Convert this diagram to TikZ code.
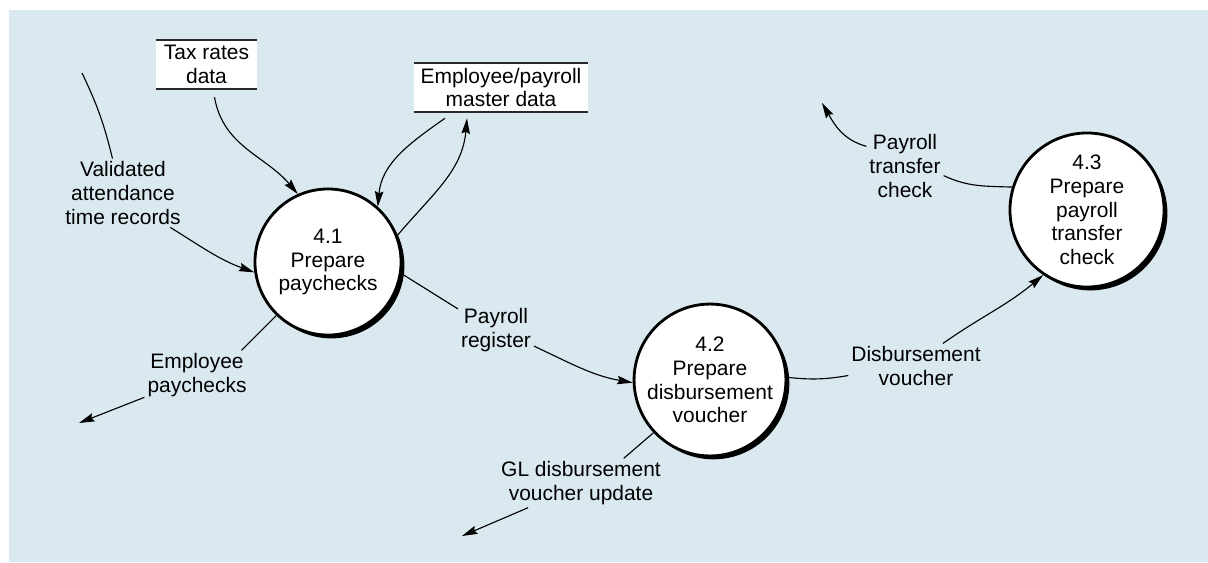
\documentclass[tikz,border=0pt]{standalone}
\usepackage{fontspec}
\setmainfont{Liberation Sans}
\usepackage{tikz}
\usetikzlibrary{calc,arrows.meta,shadows}
\definecolor{PanelBlue}{RGB}{218,232,240}
\definecolor{StoreLine}{RGB}{40,40,40}

\begin{document}
\begin{tikzpicture}[x=0.025cm, y=0.025cm,
  font=\fontsize{14.9}{16.8}\selectfont,
  process/.style={circle, draw=black, line width=2pt, fill=white, minimum size=3.65cm, inner sep=0pt, align=center, drop shadow={shadow xshift=2.4pt, shadow yshift=-2.4pt, opacity=1, fill=black}},
  storeline/.style={draw=StoreLine, line width=1.2pt},
  store/.style={fill=white, inner sep=0pt, align=center, minimum height=1.225cm, append after command={(\tikzlastnode.north west) edge[storeline] (\tikzlastnode.north east) (\tikzlastnode.south west) edge[storeline] (\tikzlastnode.south east)}},
  flowtext/.style={align=center, inner sep=2pt},
  flowline/.style={line width=0.8pt},
  flow/.style={flowline, -{Stealth[length=11pt,width=6pt,inset=1.5pt]}}
]
  \useasboundingbox (0,0) rectangle (1208,562);
  \fill[white] (0,0) rectangle (1208,562);
  \fill[PanelBlue] (9,0) rectangle (1208,552);

  % data stores
  \node[store, minimum width=2.525cm] (taxdata) at (206.5,497.5) {Tax rates\\data};
  \node[store, minimum width=4.35cm] (master) at (501,474.5) {Employee/payroll\\master data};

  % processes
  \node[process] (paychk) at (328,300) {4.1\\Prepare\\paychecks};
  \node[process] (voucher) at (710,182) {4.2\\Prepare\\disbursement\\voucher};
  \node[process, minimum size=3.85cm] (transfer) at (1087,352) {4.3\\Prepare\\payroll\\transfer\\check};

  % flow labels
  \node[flowtext] (attend) at (123,369) {Validated\\attendance\\time records};
  \node[flowtext] (emppay) at (197,187) {Employee\\paychecks};
  \node[flowtext] (register) at (496,232) {Payroll\\register};
  \node[flowtext] (glupd) at (581,79) {GL disbursement\\voucher update};
  \node[flowtext] (disb) at (916,196) {Disbursement\\voucher};
  \node[flowtext] (xfercheck) at (905,396) {Payroll\\transfer\\check};

  % free ends
  \coordinate (attendin) at (82,489);
  \coordinate (payout) at (79,139);
  \coordinate (glout) at (462,26);
  \coordinate (xferout) at (822,459);

  \draw[flowline] (attendin) to[bend left=6] (attend.107);
  \draw[flow] (attend.-36) to[out=-32, in=160] (paychk.188);
  \draw[flow] ($(taxdata.south)+(8,-8)$) to[out=-80, in=130] (paychk.114);
  \draw[flow] ($(master.south)+(-56,-6)$) to[out=215, in=85] (paychk.48);
  \draw[flow] (paychk.21) to[out=50, in=-95] ($(master.south)+(-34,-6)$);
  \draw[flowline] (paychk.-9) -- (register.151);
  \draw[flow] (register.-23) to[out=-25, in=170] (voucher.182);
  \draw[flowline] (paychk.226) -- (emppay.29);
  \draw[flow] (emppay.203) -- (payout);
  \draw[flowline] (voucher.223) -- (glupd.30);
  \draw[flow] (glupd.205) -- (glout);
  \draw[flowline] (voucher.2) to[bend right=8] (disb.188);
  \draw[flow] (disb.40) to[out=35, in=-140] (transfer.236);
  \draw[flowline] (transfer.163) to[out=178, in=-25] (xfercheck.-14);
  \draw[flow] (xfercheck.153) to[out=165, in=-60] (xferout);
\end{tikzpicture}
\end{document}
